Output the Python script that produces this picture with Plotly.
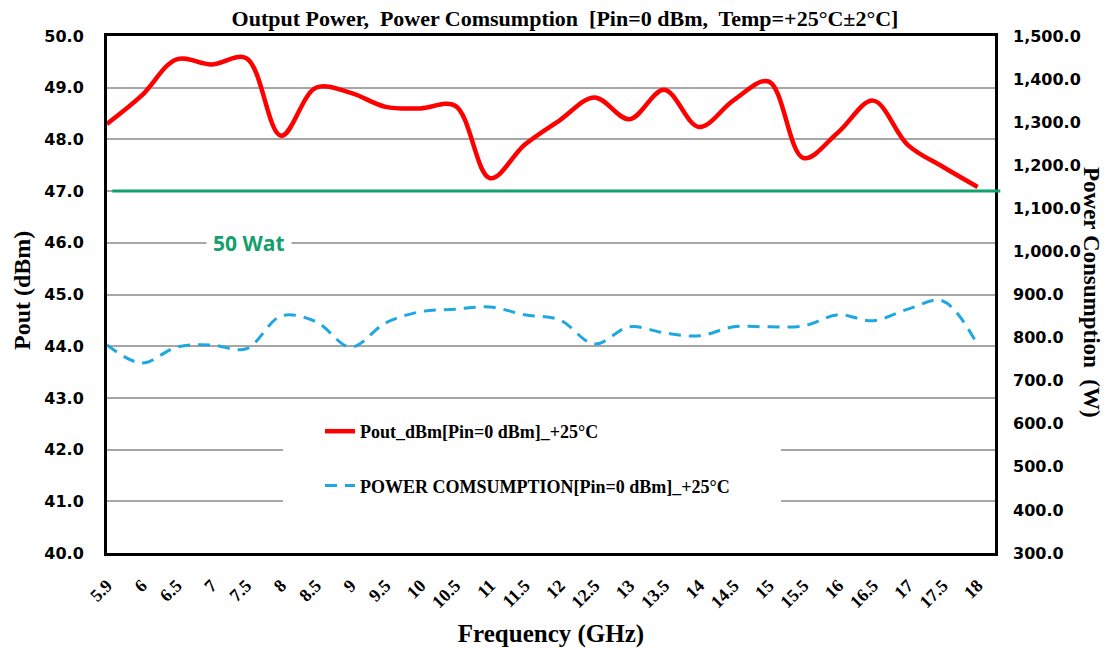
import plotly.graph_objects as go

freq_labels = ["5.9", "6", "6.5", "7", "7.5", "8", "8.5", "9", "9.5", "10", "10.5", "11", "11.5",
               "12", "12.5", "13", "13.5", "14", "14.5", "15", "15.5", "16", "16.5", "17", "17.5", "18"]
pout_dbm = [48.3, 48.85, 49.55, 49.45, 49.57, 48.07, 49.0, 48.9, 48.63, 48.6, 48.65, 47.25, 47.9,
            48.37, 48.81, 48.39, 48.96, 48.24, 48.76, 49.12, 47.64, 48.14, 48.75, 47.89, 47.47, 47.08]
power_w = [783, 741, 778, 783, 774, 850, 837, 778, 834, 860, 866, 871, 853,
           841, 785, 825, 811, 804, 825, 825, 827, 853, 839, 866, 885, 783]
limit_dbm = 47.0
limit_label = "50 Wat"

SERIF = "Liberation Serif"
SANS = "DejaVu Sans"

# plot-area geometry in pixels
L, R, T, B = 107, 995, 36, 553
PW, PH = R - L, B - T


def px_x(p):
    return (p - L) / PW


def px_y(p):
    return (B - p) / PH


fig = go.Figure()
fig.add_trace(go.Scatter(
    x=freq_labels, y=pout_dbm, mode="lines", name="Pout_dBm[Pin=0 dBm]_+25°C",
    line=dict(color="#ff0000", width=4.5, shape="spline", smoothing=1),
    legendgroup="a", yaxis="y"))
fig.add_trace(go.Scatter(
    x=freq_labels, y=power_w, mode="lines", name="POWER COMSUMPTION[Pin=0 dBm]_+25°C",
    line=dict(color="#1fa8e0", width=3, dash="12px,8px", shape="spline", smoothing=1),
    legendgroup="b", yaxis="y2"))

fig.update_layout(
    width=1112, height=648,
    margin=dict(l=L, r=1112 - R, t=T, b=648 - B, autoexpand=False),
    paper_bgcolor="white", plot_bgcolor="white",
    showlegend=True,
    title=dict(text="Output Power,  Power Comsumption  [Pin=0 dBm,  Temp=+25°C±2°C]",
               x=565 / 1112, xanchor="center", y=1 - 18 / 648, yanchor="middle",
               font=dict(family=SERIF, size=22, color="black", weight="bold")),
    legend=dict(x=px_x(320), xanchor="left", y=px_y(413), yanchor="top",
                bgcolor="rgba(0,0,0,0)", borderwidth=0, traceorder="grouped", tracegroupgap=28,
                font=dict(family=SERIF, size=18, color="black", weight="bold")),
    xaxis=dict(type="category", range=[0, 25.5], showgrid=False, zeroline=False, automargin=False,
               showline=True, linecolor="black", linewidth=3, mirror=True,
               tickangle=-45, ticks="", ticklabelstandoff=12,
               tickfont=dict(family=SERIF, size=18, color="black", weight="bold"),
               title=dict(text="Frequency (GHz)", standoff=18,
                          font=dict(family=SERIF, size=25, color="black", weight="bold"))),
    yaxis=dict(range=[40, 50], dtick=1, tickformat=".1f", showgrid=True, automargin=False,
               gridcolor="#a6a6a6", gridwidth=1.5, zeroline=False,
               showline=True, linecolor="black", linewidth=3, mirror=True,
               ticks="", ticklabelstandoff=17,
               tickfont=dict(family=SANS, size=16, color="black", weight="bold")),
    yaxis2=dict(range=[300, 1500], dtick=100, tickformat=",.1f", overlaying="y", side="right",
                automargin=False,
                showgrid=False, zeroline=False, showline=False, ticks="", ticklabelstandoff=17,
                tickfont=dict(family=SANS, size=16, color="black", weight="bold")),
)

# white box behind legend (covers gridlines like the original)
fig.add_shape(type="rect", xref="paper", yref="paper",
              x0=px_x(283), x1=px_x(781), y0=px_y(512), y1=px_y(402),
              fillcolor="white", line=dict(width=0), layer="above")

# 50 W limit line
fig.add_shape(type="line", xref="paper", yref="y", x0=0.006, x1=1.006, y0=limit_dbm, y1=limit_dbm,
              line=dict(color="#14a06c", width=3), layer="above")

fig.add_annotation(x=px_x(249), xref="paper", y=46.0, yref="y", text=limit_label,
                   xanchor="center", yanchor="middle",
                   showarrow=False, bgcolor="white", borderpad=6,
                   font=dict(family="Open Sans", size=21, color="#14a06c", weight="bold"))

fig.add_annotation(x=px_x(22), xref="paper", y=px_y(291), yref="paper", text="Pout (dBm)",
                   textangle=-90, xanchor="center", yanchor="middle", showarrow=False,
                   font=dict(family=SERIF, size=24, color="black", weight="bold"))
fig.add_annotation(x=px_x(1092), xref="paper", y=px_y(292), yref="paper",
                   text="Power Consumption  (W)", textangle=90, xanchor="center", yanchor="middle",
                   showarrow=False,
                   font=dict(family=SERIF, size=23, color="black", weight="bold"))

fig.write_html("out.html", config={"displayModeBar": False},
               post_script="document.body.style.margin='0';")
